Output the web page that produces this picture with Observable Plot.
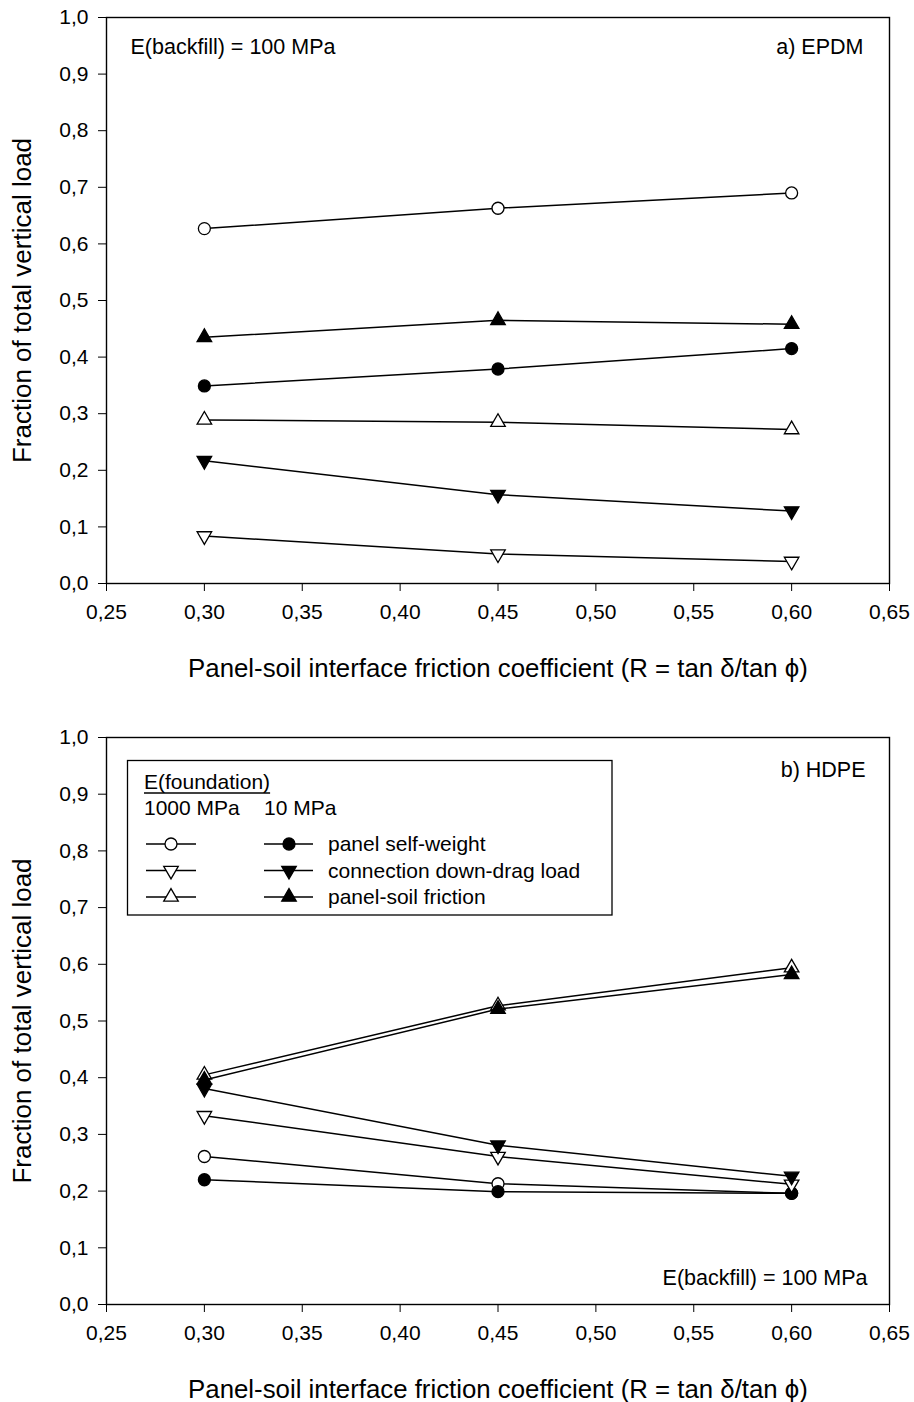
<!DOCTYPE html>
<html><head><meta charset="utf-8">
<script src="https://cdn.jsdelivr.net/npm/d3@7"></script>
<script src="https://cdn.jsdelivr.net/npm/@observablehq/plot@0.6"></script>
<style>
body{margin:0;background:#fff;}
#chart svg{display:block;}
</style></head><body><div id="chart"></div>
<script>
// ---------- data ----------
const xValues = [0.30, 0.45, 0.60];
const xTicks = [0.25, 0.30, 0.35, 0.40, 0.45, 0.50, 0.55, 0.60, 0.65];
const yTicks = [0.0, 0.1, 0.2, 0.3, 0.4, 0.5, 0.6, 0.7, 0.8, 0.9, 1.0];
const seriesNames = ["panel self-weight", "connection down-drag load", "panel-soil friction"];
const foundationLabels = ["1000 MPa", "10 MPa"];

// a) EPDM
const epdmSelfWeight1000 = [0.627, 0.663, 0.690];
const epdmSelfWeight10   = [0.349, 0.379, 0.415];
const epdmDownDrag1000   = [0.084, 0.052, 0.039];
const epdmDownDrag10     = [0.217, 0.157, 0.128];
const epdmFriction1000   = [0.289, 0.285, 0.272];
const epdmFriction10     = [0.435, 0.465, 0.458];

// b) HDPE
const hdpeSelfWeight1000 = [0.261, 0.213, 0.196];
const hdpeSelfWeight10   = [0.220, 0.199, 0.196];
const hdpeDownDrag1000   = [0.333, 0.261, 0.212];
const hdpeDownDrag10     = [0.381, 0.281, 0.226];
const hdpeFriction1000   = [0.405, 0.527, 0.594];
const hdpeFriction10     = [0.396, 0.521, 0.582];

// ---------- helpers ----------
const FONT = "'Liberation Sans', Arial, Helvetica, sans-serif";
const sqrt3 = Math.sqrt(3);
const triangleDown = {
  draw(context, size) {
    const y = -Math.sqrt(size / (sqrt3 * 3));
    context.moveTo(0, -y * 2);
    context.lineTo(-sqrt3 * y, y);
    context.lineTo(sqrt3 * y, y);
    context.closePath();
  }
};
const symbolDefs = {circle: {symbol: "circle", r: 6}, up: {symbol: "triangle", r: 5.4}, down: {symbol: triangleDown, r: 5.4}};

function rows(values) { return xValues.map((x, i) => ({x, y: values[i]})); }

function seriesMarks(values, kind, filled) {
  const data = rows(values);
  const s = symbolDefs[kind];
  return [
    Plot.line(data, {x: "x", y: "y", stroke: "black", strokeWidth: 1.5}),
    Plot.dot(data, {x: "x", y: "y", symbol: s.symbol, r: s.r, fill: filled ? "black" : "white", stroke: "black", strokeWidth: 1.3})
  ];
}

const fmt2 = d => d.toFixed(2).replace(".", ",");
const fmt1 = d => d.toFixed(1).replace(".", ",");
const xTitle = "Panel-soil interface friction coefficient (R = tan δ/tan ϕ)";
const yTitle = "Fraction of total vertical load";

function panel({height, marginTop, marginBottom, series, texts}) {
  const marks = [];
  for (const [vals, kind, filled] of series) marks.push(...seriesMarks(vals, kind, filled));
  marks.push(Plot.frame({stroke: "black", strokeWidth: 1.4}));
  marks.push(Plot.text([xTitle], {frameAnchor: "bottom", dy: 85, fontSize: 25.8, textAnchor: "middle", lineAnchor: "middle", fill: "black"}));
  marks.push(Plot.text([yTitle], {frameAnchor: "left", dx: -84, rotate: -90, fontSize: 26, textAnchor: "middle", lineAnchor: "middle", fill: "black"}));
  for (const t of texts) marks.push(Plot.text([t.text], {frameAnchor: t.anchor, dx: t.dx, dy: t.dy, textAnchor: t.textAnchor, lineAnchor: "middle", fontSize: 21.5, fill: "black"}));
  return Plot.plot({
    width: 914, height, marginLeft: 106, marginRight: 25, marginTop, marginBottom,
    style: {fontFamily: FONT, fontSize: "21px", color: "black", background: "white", overflow: "visible"},
    x: {domain: [0.25, 0.65], ticks: xTicks, tickFormat: fmt2, tickSize: 8, tickPadding: 13, label: null},
    y: {domain: [0, 1], ticks: yTicks, tickFormat: fmt1, tickSize: 8, tickPadding: 10, label: null},
    marks
  });
}

const chart = document.getElementById("chart");

const panelTop = panel({
  height: 700, marginTop: 17, marginBottom: 117,
  series: [
    [epdmSelfWeight1000, "circle", false], [epdmSelfWeight10, "circle", true],
    [epdmDownDrag1000, "down", false], [epdmDownDrag10, "down", true],
    [epdmFriction1000, "up", false], [epdmFriction10, "up", true]
  ],
  texts: [
    {text: "E(backfill) = 100 MPa", anchor: "top-left", dx: 24, dy: 30, textAnchor: "start"},
    {text: "a) EPDM", anchor: "top-right", dx: -26, dy: 30, textAnchor: "end"}
  ]
});
chart.appendChild(panelTop);

const panelBottom = panel({
  height: 702, marginTop: 37, marginBottom: 98,
  series: [
    [hdpeSelfWeight1000, "circle", false], [hdpeSelfWeight10, "circle", true],
    [hdpeDownDrag1000, "down", false], [hdpeDownDrag10, "down", true],
    [hdpeFriction1000, "up", false], [hdpeFriction10, "up", true]
  ],
  texts: [
    {text: "b) HDPE", anchor: "top-right", dx: -24, dy: 33, textAnchor: "end"},
    {text: "E(backfill) = 100 MPa", anchor: "bottom-right", dx: -22, dy: -26, textAnchor: "end"}
  ]
});
chart.appendChild(panelBottom);

// ---------- legend inside panel b ----------
const svg = d3.select(panelBottom);
const lg = svg.append("g").attr("font-family", FONT).attr("font-size", 21).attr("fill", "black").attr("text-anchor", "start");
lg.append("rect").attr("x", 127.5).attr("y", 60.5).attr("width", 484.5).attr("height", 154.5)
  .attr("fill", "white").attr("stroke", "black").attr("stroke-width", 1.3);
const head = lg.append("text").attr("x", 144).attr("y", 89).text("E(foundation)");
const headW = head.node().getComputedTextLength();
lg.append("line").attr("x1", 144).attr("x2", 144 + headW).attr("y1", 93).attr("y2", 93).attr("stroke", "black").attr("stroke-width", 1.3);
lg.append("text").attr("x", 144).attr("y", 115).text(foundationLabels[0]);
lg.append("text").attr("x", 264).attr("y", 115).text(foundationLabels[1]);
const legendKinds = ["circle", "down", "up"];
const d3sym = {circle: d3.symbolCircle, up: d3.symbolTriangle, down: triangleDown};
legendKinds.forEach((kind, i) => {
  const cy = 144 + i * 26.5;
  const s = symbolDefs[kind];
  [[146, 196, 171, false], [264, 313, 289, true]].forEach(([x1, x2, cx, filled]) => {
    lg.append("line").attr("x1", x1).attr("x2", x2).attr("y1", cy).attr("y2", cy).attr("stroke", "black").attr("stroke-width", 1.5);
    lg.append("path").attr("transform", `translate(${cx},${cy})`)
      .attr("d", d3.symbol(d3sym[kind], Math.PI * s.r * s.r)())
      .attr("fill", filled ? "black" : "white").attr("stroke", "black").attr("stroke-width", 1.3);
  });
  lg.append("text").attr("x", 328).attr("y", cy).attr("dy", "0.35em").text(seriesNames[i]);
});
</script></body></html>
